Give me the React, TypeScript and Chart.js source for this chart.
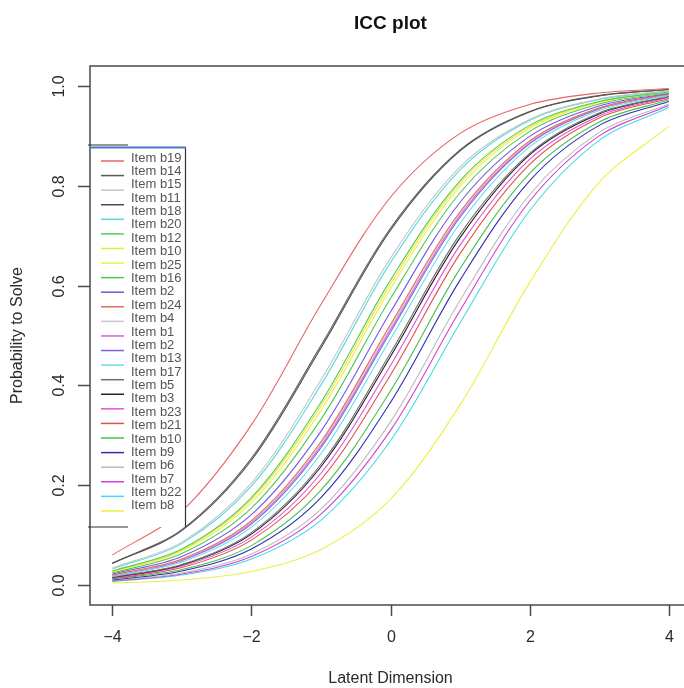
import React, { useEffect, useRef } from "react";
import { Chart, registerables } from "chart.js";

Chart.register(...registerables);

// Latent dimension positions where each curve was read
const THETA = [-4, -3, -2, -1, 0, 1, 2, 3, 4];

// Items in the order of the legend (easiest first)
const ITEMS = [
  "Item b19", "Item b14", "Item b15", "Item b11", "Item b18", "Item b20", "Item b12",
  "Item b10", "Item b25", "Item b16", "Item b2", "Item b24", "Item b4", "Item b1",
  "Item b13", "Item b17", "Item b5", "Item b3", "Item b23", "Item b21", "Item b9",
  "Item b6", "Item b7", "Item b22", "Item b8",
];

// Legend text exactly as printed in the picture
const LEGEND_TEXT = [
  "Item b19", "Item b14", "Item b15", "Item b11", "Item b18", "Item b20", "Item b12",
  "Item b10", "Item b25", "Item b16", "Item b2", "Item b24", "Item b4", "Item b1",
  "Item b2", "Item b13", "Item b17", "Item b5", "Item b3", "Item b23", "Item b21",
  "Item b10", "Item b9", "Item b6", "Item b7", "Item b22", "Item b8",
];

const COLORS = [
  "#e86464", "#5a5a5a", "#c4c4c4", "#4a4a4a", "#5ad8e0", "#58c858", "#e8e83c",
  "#eeee50", "#50c850", "#7258e0", "#e46a56", "#c8c8c8", "#dc5cdc", "#8060e0",
  "#60e0e8", "#707070", "#202020", "#e450dc", "#e45044", "#48c050", "#3030b0",
  "#bcbcbc", "#d044d0", "#44dce4", "#eeee44",
];

// Probability to solve at each THETA
const P_B19 = [0.060, 0.148, 0.321, 0.562, 0.777, 0.905, 0.963, 0.986, 0.995];
const P_B14 = [0.044, 0.111, 0.254, 0.480, 0.715, 0.872, 0.949, 0.981, 0.993];
const P_B15 = [0.034, 0.086, 0.204, 0.411, 0.655, 0.838, 0.933, 0.974, 0.990];
const P_B11 = [0.043, 0.109, 0.250, 0.475, 0.711, 0.870, 0.948, 0.980, 0.993];
const P_B18 = [0.032, 0.083, 0.198, 0.401, 0.646, 0.832, 0.931, 0.973, 0.990];
const P_B20 = [0.028, 0.072, 0.175, 0.366, 0.611, 0.810, 0.921, 0.969, 0.988];
const P_B12 = [0.027, 0.070, 0.171, 0.359, 0.603, 0.805, 0.918, 0.968, 0.988];
const P_B10 = [0.026, 0.068, 0.165, 0.350, 0.594, 0.799, 0.915, 0.967, 0.988];
const P_B25 = [0.024, 0.063, 0.154, 0.332, 0.574, 0.786, 0.909, 0.964, 0.987];
const P_B16 = [0.022, 0.057, 0.141, 0.308, 0.547, 0.767, 0.899, 0.960, 0.985];
const P_B2 = [0.020, 0.052, 0.129, 0.287, 0.522, 0.748, 0.890, 0.956, 0.984];
const P_B24 = [0.019, 0.051, 0.127, 0.283, 0.517, 0.745, 0.888, 0.956, 0.983];
const P_B4 = [0.019, 0.050, 0.125, 0.279, 0.512, 0.741, 0.886, 0.955, 0.983];
const P_B1 = [0.019, 0.049, 0.122, 0.275, 0.507, 0.737, 0.884, 0.954, 0.983];
const P_B13 = [0.017, 0.046, 0.116, 0.263, 0.493, 0.725, 0.878, 0.951, 0.981];
const P_B17 = [0.016, 0.041, 0.105, 0.242, 0.465, 0.703, 0.865, 0.946, 0.979];
const P_B5 = [0.015, 0.040, 0.102, 0.237, 0.458, 0.696, 0.862, 0.944, 0.979];
const P_B3 = [0.014, 0.038, 0.096, 0.224, 0.440, 0.681, 0.853, 0.940, 0.977];
const P_B23 = [0.013, 0.035, 0.090, 0.211, 0.421, 0.664, 0.843, 0.936, 0.975];
const P_B21 = [0.012, 0.031, 0.079, 0.190, 0.389, 0.634, 0.825, 0.928, 0.972];
const P_B9 = [0.010, 0.028, 0.072, 0.175, 0.366, 0.611, 0.810, 0.921, 0.969];
const P_B6 = [0.009, 0.024, 0.062, 0.152, 0.327, 0.570, 0.782, 0.907, 0.964];
const P_B7 = [0.008, 0.022, 0.057, 0.142, 0.310, 0.550, 0.769, 0.900, 0.961];
const P_B22 = [0.007, 0.020, 0.052, 0.130, 0.289, 0.525, 0.750, 0.891, 0.957];
const P_B8 = [0.004, 0.010, 0.027, 0.071, 0.172, 0.361, 0.606, 0.807, 0.919];

const PROBS = [
  P_B19, P_B14, P_B15, P_B11, P_B18, P_B20, P_B12, P_B10, P_B25, P_B16, P_B2, P_B24,
  P_B4, P_B1, P_B13, P_B17, P_B5, P_B3, P_B23, P_B21, P_B9, P_B6, P_B7, P_B22, P_B8,
];

const X_TICKS = [-4, -2, 0, 2, 4];
const Y_TICKS = [0, 0.2, 0.4, 0.6, 0.8, 1.0];

const TITLE = "ICC plot";
const X_TITLE = "Latent Dimension";
const Y_TITLE = "Probability to Solve";

const W = 700;
const H = 688;
const FONT = "'Liberation Sans', Arial, sans-serif";

const decorPlugin = {
  id: "rDecor",
  afterDraw(chart: any) {
    const ctx = chart.ctx;
    const { left, right, top, bottom } = chart.chartArea;
    const xs = chart.scales.x;
    const ys = chart.scales.y;
    ctx.save();

    // plot box
    ctx.strokeStyle = "#4a4a4a";
    ctx.lineWidth = 1.5;
    ctx.strokeRect(left, top, right - left, bottom - top);

    // x ticks
    ctx.fillStyle = "#2a2a2a";
    ctx.font = `16px ${FONT}`;
    ctx.textAlign = "center";
    ctx.textBaseline = "middle";
    X_TICKS.forEach((v) => {
      const px = Math.round(xs.getPixelForValue(v)) + 0.5;
      ctx.beginPath();
      ctx.moveTo(px, bottom);
      ctx.lineTo(px, bottom + 11);
      ctx.stroke();
      const t = v < 0 ? "\u2212" + Math.abs(v) : String(v);
      ctx.fillText(t, px, bottom + 33);
    });

    // y ticks
    Y_TICKS.forEach((v) => {
      const py = Math.round(ys.getPixelForValue(v)) + 0.5;
      ctx.beginPath();
      ctx.moveTo(left, py);
      ctx.lineTo(left - 12, py);
      ctx.stroke();
      ctx.save();
      ctx.translate(left - 30, py);
      ctx.rotate(-Math.PI / 2);
      ctx.fillText(v.toFixed(1), 0, 0);
      ctx.restore();
    });

    // titles
    const cx = (left + right) / 2;
    ctx.font = `bold 19px ${FONT}`;
    ctx.fillStyle = "#111";
    ctx.fillText(TITLE, cx, 24);
    ctx.font = `16px ${FONT}`;
    ctx.fillStyle = "#2a2a2a";
    ctx.fillText(X_TITLE, cx, 679);
    ctx.save();
    ctx.translate(18, (top + bottom) / 2);
    ctx.rotate(-Math.PI / 2);
    ctx.fillText(Y_TITLE, 0, 0);
    ctx.restore();

    // legend overlay
    const lx0 = left + 1;
    const lx1 = 185;
    const ly0 = 146;
    const ly1 = 527;
    ctx.fillStyle = "#ffffff";
    ctx.fillRect(lx0, ly0, lx1 - lx0, ly1 - ly0);
    ctx.lineWidth = 1.2;
    ctx.strokeStyle = "#333";
    ctx.beginPath();
    ctx.moveTo(left - 2, 145);
    ctx.lineTo(128, 145);
    ctx.moveTo(left - 2, ly1);
    ctx.lineTo(128, ly1);
    ctx.moveTo(lx1 + 0.5, 147);
    ctx.lineTo(lx1 + 0.5, ly1);
    ctx.stroke();
    ctx.strokeStyle = "#4a78c8";
    ctx.lineWidth = 2;
    ctx.beginPath();
    ctx.moveTo(left, 147.5);
    ctx.lineTo(lx1 + 1, 147.5);
    ctx.stroke();

    ctx.lineWidth = 1.5;
    COLORS.forEach((c, i) => {
      const y = 161 + i * 14.58;
      ctx.strokeStyle = c;
      ctx.beginPath();
      ctx.moveTo(101, y);
      ctx.lineTo(124, y);
      ctx.stroke();
    });
    ctx.font = `13px ${FONT}`;
    ctx.fillStyle = "#555";
    ctx.textAlign = "left";
    LEGEND_TEXT.forEach((t, j) => {
      ctx.fillText(t, 131, 158 + j * 13.38);
    });

    ctx.restore();
  },
};

export default function App() {
  const ref = useRef<HTMLCanvasElement | null>(null);

  useEffect(() => {
    if (!ref.current) return;
    const chart = new Chart(ref.current, {
      type: "line",
      data: {
        datasets: ITEMS.map((label, i) => ({
          label,
          data: THETA.map((x, j) => ({ x, y: PROBS[i][j] })),
          borderColor: COLORS[i],
          backgroundColor: COLORS[i],
          borderWidth: 1.1,
          pointRadius: 0,
          fill: false,
          tension: 0.33,
        })),
      },
      options: {
        responsive: false,
        animation: false,
        events: [],
        layout: { padding: { left: 90, top: 66, right: W - 691, bottom: H - 605 } },
        scales: {
          x: { type: "linear", min: -4.32, max: 4.32, display: false },
          y: { type: "linear", min: -0.04, max: 1.04, display: false },
        },
        plugins: {
          legend: { display: false },
          tooltip: { enabled: false },
          title: { display: false },
        },
      },
      plugins: [decorPlugin],
    });
    return () => chart.destroy();
  }, []);

  return (
    <div
      style={{
        position: "absolute",
        left: 0,
        top: 0,
        width: 684,
        height: 688,
        overflow: "hidden",
        background: "#fff",
      }}
    >
      <canvas ref={ref} width={W} height={H} style={{ display: "block" }} />
    </div>
  );
}
